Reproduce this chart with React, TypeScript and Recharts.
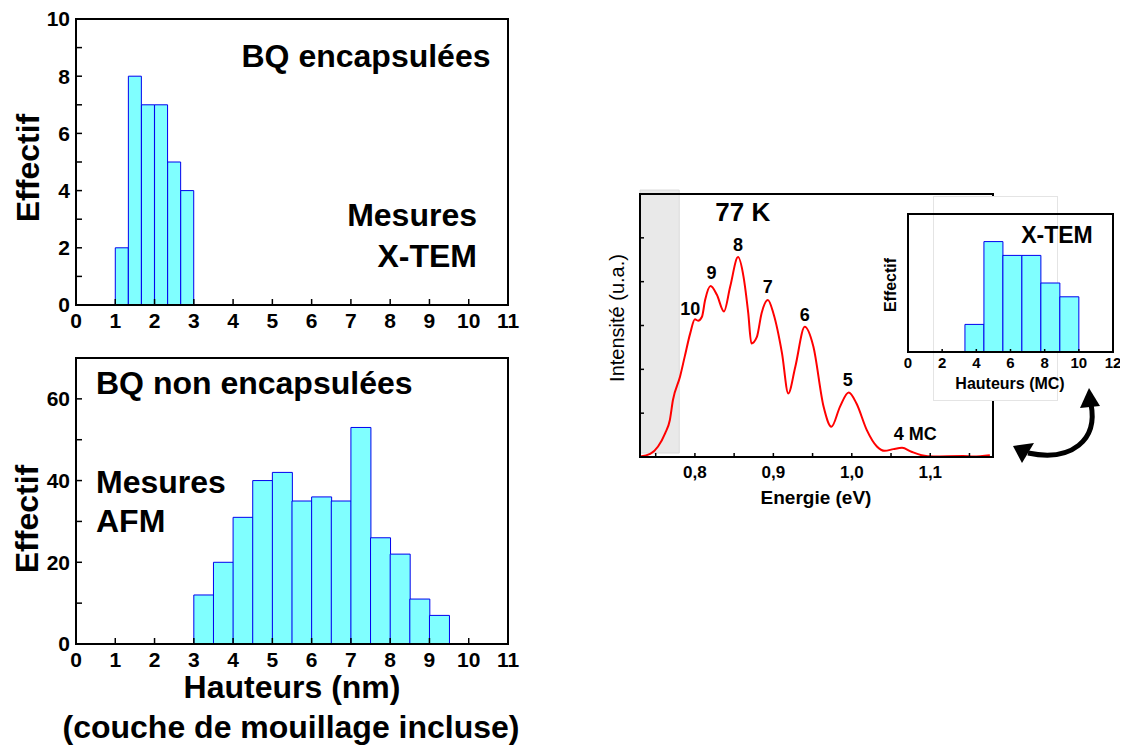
import {
  Bar,
  ComposedChart,
  Line,
  LineChart,
  ReferenceArea,
  ReferenceDot,
  XAxis,
  YAxis,
} from 'recharts'

const FONT = "'Liberation Sans', Arial, sans-serif"

// X-TEM histogram (bin centres, nm) - encapsulated dots
const XTEM_NM = [1.167, 1.5, 1.833, 2.167, 2.5, 2.833]
const XTEM_COUNT = [2, 8, 7, 7, 5, 4]

// AFM histogram (bin centres, nm) - uncapped dots
const AFM_NM = [3.25, 3.75, 4.25, 4.75, 5.25, 5.75, 6.25, 6.75, 7.25, 7.75, 8.25, 8.75, 9.25]
const AFM_COUNT = [12, 20, 31, 40, 42, 35, 36, 35, 53, 26, 22, 11, 7]

// inset: same X-TEM counts, heights in monolayers
const INSET_MC = [3.889, 5.0, 6.111, 7.222, 8.333, 9.444]
const INSET_COUNT = [2, 8, 7, 7, 5, 4]

// PL spectrum at 77 K
const ENERGY = [
  0.73, 0.743, 0.753, 0.762, 0.768, 0.772, 0.781, 0.787, 0.794, 0.8, 0.804, 0.809, 0.813, 0.82,
  0.828, 0.837, 0.845, 0.855, 0.862, 0.868, 0.872, 0.879, 0.885, 0.893, 0.9, 0.911, 0.919, 0.928,
  0.94, 0.951, 0.964, 0.974, 0.985, 0.996, 1.006, 1.019, 1.032, 1.042, 1.053, 1.064, 1.076, 1.089,
  1.104, 1.142, 1.155, 1.176,
]
const INTENSITY = [
  0.01, 0.07, 0.24, 0.54, 0.84, 1.3, 1.83, 2.29, 2.82, 3.14, 3.11, 3.2, 3.58, 3.9,
  3.7, 3.32, 3.89, 4.56, 4.11, 3.28, 2.59, 2.74, 3.28, 3.58, 3.28, 2.37, 1.45, 2.06,
  2.97, 2.52, 1.15, 0.69, 1.15, 1.47, 1.22, 0.62, 0.24, 0.14, 0.18, 0.21, 0.12, 0.04,
  0.01, 0.02, 0.01, 0.04,
]

// peak annotations (label anchor in data units)
const PEAK_TEXT = ['10', '9', '8', '7', '6', '5', '4 MC']
const PEAK_E = [0.794, 0.821, 0.855, 0.893, 0.94, 0.995, 1.081]
const PEAK_I = [3.24, 4.06, 4.7, 3.74, 3.1, 1.62, 0.39]

const NM_TICKS = [0, 1, 2, 3, 4, 5, 6, 7, 8, 9, 10, 11]
const XTEM_Y_TICKS = [0, 1, 2, 3, 4, 5, 6, 7, 8, 9, 10]
const AFM_Y_TICKS = [0, 10, 20, 30, 40, 50, 60]
const E_TICKS = [0.75, 0.8, 0.85, 0.9, 0.95, 1.0, 1.05, 1.1, 1.15]
const I_TICKS = [0, 1, 2, 3, 4, 5]
const MC_TICKS = [0, 2, 4, 6, 8, 10, 12]

const xtemData = XTEM_NM.map((h, i) => ({ h, n: XTEM_COUNT[i] }))
const afmData = AFM_NM.map((h, i) => ({ h, n: AFM_COUNT[i] }))
const insetData = INSET_MC.map((h, i) => ({ h, n: INSET_COUNT[i] }))
const spectrum = ENERGY.map((e, i) => ({ e, v: INTENSITY[i] }))

const BAR_FILL = '#80ffff'
const BAR_STROKE = '#0000ee'
const axisLine = { stroke: '#000', strokeWidth: 2 }
const tickLine = { stroke: '#000', strokeWidth: 1.5 }
const bigTick = { fill: '#000', fontSize: 21, fontWeight: 'bold', fontFamily: FONT }

const boldText = (size: number) => ({ fontFamily: FONT, fontWeight: 'bold', fontSize: size, fill: '#000' })

export default function App() {
  return (
    <div style={{ position: 'absolute', left: 0, top: 0, width: 1124, height: 749, background: '#fff' }}>
      {/* top-left: X-TEM histogram */}
      <div style={{ position: 'absolute', left: 0, top: 0 }}>
        <ComposedChart width={530} height={340} data={xtemData} margin={{ top: 19, right: 22, bottom: 0, left: 0 }} barCategoryGap={0} barGap={0}>
          <XAxis dataKey="h" type="number" domain={[0, 11]} ticks={NM_TICKS} interval={0} allowDataOverflow height={35}
            axisLine={axisLine} tickLine={tickLine} tickSize={-6} tickMargin={14} tick={bigTick} />
          <YAxis type="number" domain={[0, 10]} ticks={XTEM_Y_TICKS} interval={0} width={76}
            axisLine={axisLine} tickLine={tickLine} tickSize={-6} tickMargin={12} tick={bigTick}
            tickFormatter={(v) => (v % 2 === 0 ? String(v) : '')} />
          <Bar dataKey="n" fill={BAR_FILL} stroke={BAR_STROKE} strokeWidth={1} isAnimationActive={false} />
          <ReferenceArea x1={0} x2={11} y1={0} y2={10} fill="none" stroke="#000" strokeWidth={2} />
        </ComposedChart>
      </div>

      {/* bottom-left: AFM histogram */}
      <div style={{ position: 'absolute', left: 0, top: 340 }}>
        <ComposedChart width={530} height={409} data={afmData} margin={{ top: 18, right: 22, bottom: 0, left: 0 }} barCategoryGap={0} barGap={0}>
          <XAxis dataKey="h" type="number" domain={[0, 11]} ticks={NM_TICKS} interval={0} allowDataOverflow height={105}
            axisLine={axisLine} tickLine={tickLine} tickSize={-6} tickMargin={14} tick={bigTick} />
          <YAxis type="number" domain={[0, 70]} ticks={AFM_Y_TICKS} interval={0} width={76}
            axisLine={axisLine} tickLine={tickLine} tickSize={-6} tickMargin={12} tick={bigTick}
            tickFormatter={(v) => (v % 20 === 0 ? String(v) : '')} />
          <Bar dataKey="n" fill={BAR_FILL} stroke={BAR_STROKE} strokeWidth={1} isAnimationActive={false} />
          <ReferenceArea x1={0} x2={11} y1={0} y2={70} fill="none" stroke="#000" strokeWidth={2} />
        </ComposedChart>
      </div>

      {/* right: PL spectrum */}
      <div style={{ position: 'absolute', left: 600, top: 180 }}>
        <LineChart width={400} height={330} data={spectrum} margin={{ top: 14, right: 7, bottom: 0, left: 0 }}>
          <ReferenceArea x1={0.73} x2={0.78} y1={0.09} y2={6.09} ifOverflow="visible" fill="#e9e9e9" fillOpacity={1} stroke="#dadada" />
          <XAxis dataKey="e" type="number" domain={[0.73, 1.18]} ticks={E_TICKS} interval={0} allowDataOverflow height={53}
            axisLine={axisLine} tickLine={tickLine} tickSize={-4} tickMargin={13}
            tick={{ fill: '#000', fontSize: 17, fontWeight: 'bold', fontFamily: FONT }}
            tickFormatter={(v) => (Math.round(v * 100) % 10 === 0 ? v.toFixed(1).replace('.', ',') : '')} />
          <YAxis type="number" domain={[0, 6]} ticks={I_TICKS} interval={0} width={40}
            axisLine={axisLine} tickLine={tickLine} tickSize={-4} tickFormatter={() => ''} />
          <YAxis yAxisId="r" orientation="right" type="number" domain={[0, 6]} ticks={I_TICKS} interval={0} width={0}
            axisLine={false} tickLine={tickLine} tickSize={-4} tickFormatter={() => ''} />
          <ReferenceArea x1={0.73} x2={1.18} y1={0} y2={6} fill="none" stroke="#000" strokeWidth={2} />
          <Line type="monotone" dataKey="v" stroke="#ff0000" strokeWidth={2} dot={false} isAnimationActive={false} />
          {PEAK_TEXT.map((t, i) => (
            <ReferenceDot key={t} x={PEAK_E[i]} y={PEAK_I[i]} r={0} fill="none" stroke="none"
              label={{ value: t, position: 'top', offset: 0, ...boldText(18) }} />
          ))}
          <ReferenceDot x={0.861} y={5.38} r={0} fill="none" stroke="none"
            label={{ value: '77 K', position: 'top', offset: 0, ...boldText(26) }} />
        </LineChart>
      </div>

      {/* faint white frame behind the inset */}
      <div style={{ position: 'absolute', left: 933, top: 196, width: 123, height: 203, background: '#fff', border: '1px solid #e4e4e4' }} />

      {/* inset: X-TEM heights in MC */}
      <div style={{ position: 'absolute', left: 880, top: 190 }}>
        <ComposedChart width={240} height={210} data={insetData} margin={{ top: 24, right: 7, bottom: 0, left: 0 }} barCategoryGap={0} barGap={0}>
          <XAxis dataKey="h" type="number" domain={[0, 12]} ticks={MC_TICKS} interval={0} allowDataOverflow height={48}
            axisLine={axisLine} tickLine={tickLine} tickSize={-3} tickMargin={8}
            tick={{ fill: '#000', fontSize: 15, fontWeight: 'bold', fontFamily: FONT }} />
          <YAxis type="number" domain={[0, 10]} width={28} axisLine={axisLine} tick={false} tickLine={false} />
          <Bar dataKey="n" fill={BAR_FILL} stroke={BAR_STROKE} strokeWidth={1} isAnimationActive={false} />
          <ReferenceArea x1={0} x2={12} y1={0} y2={10} fill="none" stroke="#000" strokeWidth={2} />
        </ComposedChart>
      </div>

      {/* titles, axis names and the arrow */}
      <svg width={1124} height={749} style={{ position: 'absolute', left: 0, top: 0, pointerEvents: 'none' }}>
        <text x={366} y={67} textAnchor="middle" {...boldText(32)}>BQ encapsulées</text>
        <text x={477} y={226} textAnchor="end" {...boldText(32)}>Mesures</text>
        <text x={477} y={267} textAnchor="end" {...boldText(32)}>X-TEM</text>
        <text transform="translate(39,168) rotate(-90)" textAnchor="middle" {...boldText(32)}>Effectif</text>

        <text x={96} y={394} {...boldText(32)}>BQ non encapsulées</text>
        <text x={96} y={493} {...boldText(32)}>Mesures</text>
        <text x={96} y={532} {...boldText(32)}>AFM</text>
        <text transform="translate(38,519) rotate(-90)" textAnchor="middle" {...boldText(32)}>Effectif</text>
        <text x={292} y={698} textAnchor="middle" {...boldText(32)}>Hauteurs (nm)</text>
        <text x={291} y={738} textAnchor="middle" {...boldText(32)}>(couche de mouillage incluse)</text>

        <text transform="translate(624,318) rotate(-90)" textAnchor="middle" fontFamily={FONT} fontSize={20} fill="#000">Intensité (u.a.)</text>
        <text x={816} y={504} textAnchor="middle" {...boldText(19)}>Energie (eV)</text>

        <text x={1057} y={243} textAnchor="middle" {...boldText(23)}>X-TEM</text>
        <text transform="translate(896,285) rotate(-90)" textAnchor="middle" {...boldText(16)}>Effectif</text>
        <text x={1010} y={389} textAnchor="middle" {...boldText(16)}>Hauteurs (MC)</text>

        <path d="M1091,404 C1098,440 1072,462 1028,453" fill="none" stroke="#000" strokeWidth={5} />
        <polygon points="1089,388 1080,408 1100,406" fill="#000" />
        <polygon points="1013,446 1022,463 1034,443" fill="#000" />
      </svg>
    </div>
  )
}
